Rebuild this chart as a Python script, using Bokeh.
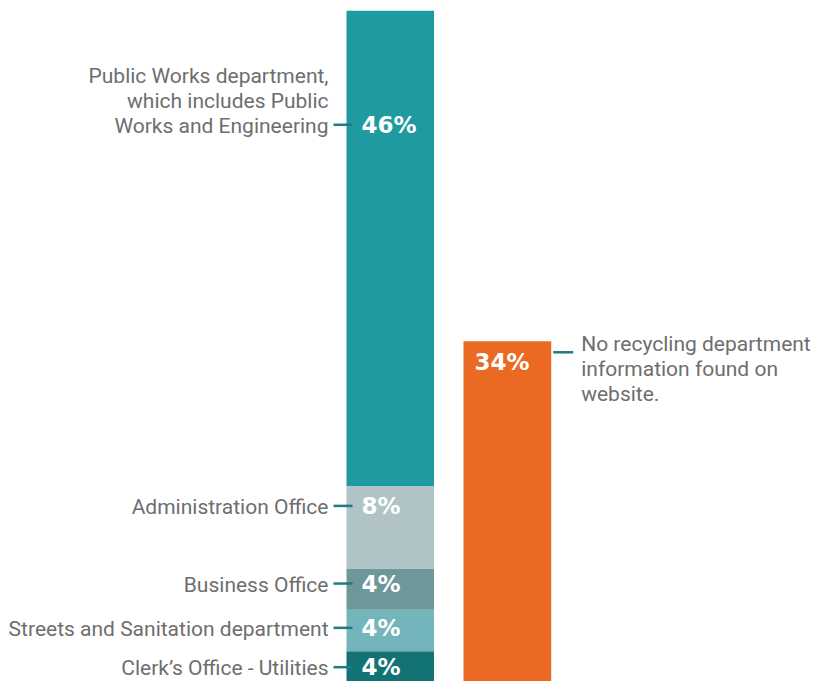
from bokeh.plotting import figure
from bokeh.models import Range1d
from bokeh.core.properties import value
from bokeh.embed import file_html
from bokeh.resources import INLINE

# ---- data ----
categories = [
    "Clerk\u2019s Office - Utilities",
    "Streets and Sanitation department",
    "Business Office",
    "Administration Office",
    "Public Works department,\nwhich includes Public\nWorks and Engineering",
]
shares = [4, 4, 4, 8, 46]
pct_labels = ["4%", "4%", "4%", "8%", "46%"]
colors = ["#137273", "#74b5bb", "#6d9799", "#b0c4c8", "#1f9aa0"]

other_category = "No recycling department\ninformation found on\nwebsite."
other_share = 34
other_label = "34%"
other_color = "#ea6a23"

# ---- styling / layout ----
W, H = 828, 681
PX_PER_UNIT = 10.33
BOTTOM_PX = 692
label_drop_px = [16, 18, 15, 20, 114]   # where label sits below segment top
LINE_H = 25
TEXT_COLOR = "#6e6e6e"
LEADER_COLOR = "#1e7b80"
FONT = "Roboto"
PCT_FONT = "DejaVu Sans"

left_x0, left_x1 = 346, 433.5
right_x0, right_x1 = 463, 550.7

p = figure(width=W, height=H, output_backend="svg", toolbar_location=None,
           x_range=Range1d(0, W),
           y_range=Range1d((BOTTOM_PX - H) / PX_PER_UNIT, BOTTOM_PX / PX_PER_UNIT),
           min_border=0, outline_line_color=None)
p.xaxis.visible = False
p.yaxis.visible = False
p.grid.visible = False
p.background_fill_color = "white"
p.border_fill_color = "white"

bottoms, tops = [], []
acc = 0
for s in shares:
    bottoms.append(acc)
    acc += s
    tops.append(acc)

lc = (left_x0 + left_x1) / 2
p.vbar(x=[lc] * len(shares), width=left_x1 - left_x0, bottom=bottoms, top=tops,
       fill_color=colors, line_color=None)

rc = (right_x0 + right_x1) / 2
p.vbar(x=[rc], width=right_x1 - right_x0, bottom=[0], top=[other_share],
       fill_color=[other_color], line_color=None)

for i in range(len(shares)):
    yline = tops[i] - label_drop_px[i] / PX_PER_UNIT
    p.segment(x0=[left_x0 - 13], x1=[left_x0 + 6], y0=[yline], y1=[yline],
              line_color=LEADER_COLOR, line_width=2.5)
    p.text(x=[left_x0 + 15], y=[yline], text=[pct_labels[i]],
           text_color="white", text_font=value(PCT_FONT), text_font_style="bold",
           text_font_size="23px", text_baseline="middle", text_align="left")
    lines = categories[i].split("\n")
    n = len(lines)
    for j, ln in enumerate(lines):
        p.text(x=[left_x0 - 18], y=[yline], text=[ln],
               y_offset=1 - (n - 1 - j) * LINE_H,
               text_color=TEXT_COLOR, text_font=value(FONT),
               text_font_size="21px", text_baseline="alphabetic", text_align="right")

# right bar label and annotation
ytop_r = other_share
p.text(x=[right_x0 + 11], y=[ytop_r - 21 / PX_PER_UNIT], text=[other_label],
       text_color="white", text_font=value(PCT_FONT), text_font_style="bold",
       text_font_size="23px", text_baseline="middle", text_align="left")
yl = ytop_r - 11 / PX_PER_UNIT
p.segment(x0=[right_x1 + 2], x1=[right_x1 + 22], y0=[yl], y1=[yl],
          line_color=LEADER_COLOR, line_width=2.5)
for j, ln in enumerate(other_category.split("\n")):
    p.text(x=[right_x1 + 30], y=[yl], text=[ln], y_offset=-8 + j * LINE_H,
           text_color=TEXT_COLOR, text_font=value(FONT),
           text_font_size="21px", text_baseline="alphabetic", text_align="left")

open("out.html", "w").write(file_html(p, INLINE))
